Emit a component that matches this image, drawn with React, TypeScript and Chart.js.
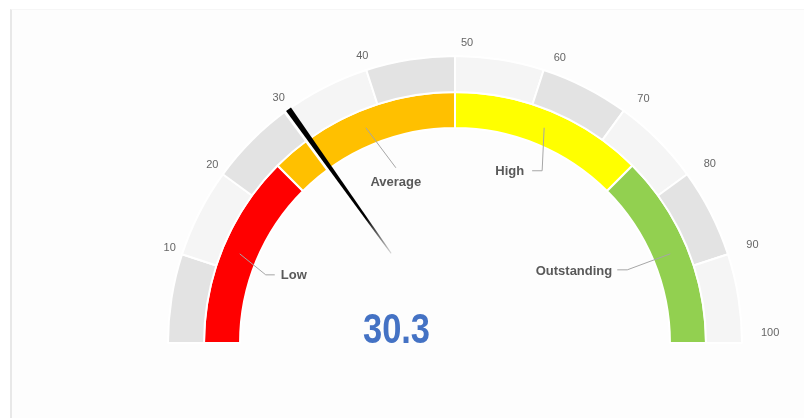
import React, { useEffect, useRef } from "react";
import { Chart, registerables } from "chart.js";

Chart.register(...registerables);

// ---- data ----
const minValue = 0;
const maxValue = 100;
const gaugeValue = 30.3;
const valueLabel = "30.3";
const bandValues = [10, 10, 10, 10, 10, 10, 10, 10, 10, 10];
const tickLabels = ["10", "20", "30", "40", "50", "60", "70", "80", "90", "100"];
const categories = ["Low", "Average", "High", "Outstanding"];
const categoryValues = [25, 25, 25, 25];

// ---- styles ----
const bandColors = bandValues.map((_, i) => (i % 2 === 0 ? "#e3e3e3" : "#f5f5f5"));
const categoryColors = ["#ff0000", "#ffc000", "#ffff00", "#92d050"];
const leaderLayout = [
  { elbow: [26, 21], run: 9, align: "left", textDx: 6, textDy: 1 },
  { elbow: [30, 40], run: 0, align: "center", textDx: 0, textDy: 15 },
  { elbow: [-2, 43], run: -10, align: "right", textDx: -8, textDy: 1 },
  { elbow: [-43, 16], run: -10, align: "right", textDx: -5, textDy: 2 },
];

const W = 804;
const H = 418;

const gaugePlugin = {
  id: "gaugeDecor",
  afterDatasetsDraw(chart: any) {
    const ctx = chart.ctx as CanvasRenderingContext2D;
    const outerMeta = chart.getDatasetMeta(0);
    const innerMeta = chart.getDatasetMeta(1);
    const first = outerMeta.data[0];
    const last = outerMeta.data[outerMeta.data.length - 1];
    const cx = first.x;
    const cy = first.y;
    const R = first.outerRadius;
    const a0 = first.startAngle;
    const a1 = last.endAngle;
    const angleOf = (v: number) => a0 + ((v - minValue) / (maxValue - minValue)) * (a1 - a0);

    ctx.save();

    // tick labels
    ctx.font = '11px "Liberation Sans", Arial, sans-serif';
    ctx.fillStyle = "#666666";
    ctx.textBaseline = "middle";
    outerMeta.data.forEach((arc: any, i: number) => {
      const a = arc.endAngle;
      const v = bandValues.slice(0, i + 1).reduce((s, x) => s + x, minValue);
      const rr = R + 13;
      let x = cx + rr * Math.cos(a);
      let y = cy + rr * Math.sin(a);
      if (v < (minValue + maxValue) / 2) {
        ctx.textAlign = "center";
        y -= 2;
      } else {
        ctx.textAlign = "left";
        x += 6;
        const s = Math.max(0, 1 - Math.abs(Math.sin(a)));
        y -= 10 * Math.pow(s, 1.5);
      }
      ctx.fillText(tickLabels[i], x, y);
    });

    // leader lines + category labels
    innerMeta.data.forEach((arc: any, i: number) => {
      const mid = (arc.startAngle + arc.endAngle) / 2;
      const rm = (arc.innerRadius + arc.outerRadius) / 2;
      const sx = cx + rm * Math.cos(mid);
      const sy = cy + rm * Math.sin(mid);
      const L = leaderLayout[i];
      const ex = sx + L.elbow[0];
      const ey = sy + L.elbow[1];
      const fx = ex + L.run;
      ctx.strokeStyle = "#a6a6a6";
      ctx.lineWidth = 1;
      ctx.beginPath();
      ctx.moveTo(sx, sy);
      ctx.lineTo(ex, ey);
      ctx.lineTo(fx, ey);
      ctx.stroke();
      ctx.font = 'bold 13px "Liberation Sans", Arial, sans-serif';
      ctx.fillStyle = "#595959";
      ctx.textAlign = L.align as CanvasTextAlign;
      ctx.textBaseline = "middle";
      ctx.fillText(categories[i], fx + L.textDx, ey + L.textDy);
    });

    // needle
    const a = angleOf(gaugeValue);
    const ux = Math.cos(a);
    const uy = Math.sin(a);
    const nx = Math.sin(a);
    const ny = -Math.cos(a);
    const rTip = R;
    const rBase = 110;
    const wTip = 3;
    const wBase = 0.5;
    // white edge on lower-value side
    ctx.strokeStyle = "#ffffff";
    ctx.lineWidth = 3;
    ctx.beginPath();
    ctx.moveTo(cx + ux * rTip + nx * (wTip + 1.5), cy + uy * rTip + ny * (wTip + 1.5));
    ctx.lineTo(cx + ux * 150 + nx * 2, cy + uy * 150 + ny * 2);
    ctx.stroke();
    const grad = ctx.createLinearGradient(cx + ux * rBase, cy + uy * rBase, cx + ux * rTip, cy + uy * rTip);
    grad.addColorStop(0, "rgba(0,0,0,0.15)");
    grad.addColorStop(0.25, "#000000");
    grad.addColorStop(1, "#000000");
    ctx.fillStyle = grad;
    ctx.beginPath();
    ctx.moveTo(cx + ux * rTip + nx * wTip, cy + uy * rTip + ny * wTip);
    ctx.lineTo(cx + ux * rTip - nx * wTip, cy + uy * rTip - ny * wTip);
    ctx.lineTo(cx + ux * rBase - nx * wBase, cy + uy * rBase - ny * wBase);
    ctx.lineTo(cx + ux * rBase + nx * wBase, cy + uy * rBase + ny * wBase);
    ctx.closePath();
    ctx.fill();

    // value text
    ctx.save();
    ctx.fillStyle = "#4472c4";
    ctx.font = 'bold 42px "Liberation Sans", Arial, sans-serif';
    ctx.textAlign = "center";
    ctx.textBaseline = "middle";
    const tx = 396.5;
    const ty = 331;
    ctx.translate(tx, ty);
    ctx.scale(0.82, 1);
    ctx.fillText(valueLabel, 0, 0);
    ctx.restore();

    ctx.restore();
  },
};

export default function App() {
  const ref = useRef<HTMLCanvasElement | null>(null);
  useEffect(() => {
    if (!ref.current) return;
    const chart = new Chart(ref.current, {
      type: "doughnut",
      data: {
        labels: categories,
        datasets: [
          {
            data: bandValues,
            backgroundColor: bandColors,
            borderColor: "#ffffff",
            borderWidth: 2,
          },
          {
            data: categoryValues,
            backgroundColor: categoryColors,
            borderColor: "#ffffff",
            borderWidth: 2,
          },
        ],
      },
      options: {
        responsive: false,
        animation: false,
        events: [],
        rotation: -90,
        circumference: 180,
        radius: 287,
        cutout: "74.9%",
        layout: { padding: { left: 168, right: 62, top: 56, bottom: 75 } },
        plugins: {
          legend: { display: false },
          tooltip: { enabled: false },
        },
      },
      plugins: [gaugePlugin],
    });
    return () => chart.destroy();
  }, []);

  return (
    <div style={{ position: "fixed", left: 0, top: 0, width: W, height: H, background: "#ffffff" }}>
      <div
        style={{
          position: "absolute",
          left: 10,
          top: 9,
          right: 0,
          bottom: 0,
          background: "#fdfdfd",
          borderLeft: "2px solid #e8e8e8",
          borderTop: "1px solid #f6f6f6",
        }}
      />
      <canvas
        ref={ref}
        width={W}
        height={H}
        style={{ position: "absolute", left: 0, top: 0, width: W, height: H }}
      />
    </div>
  );
}
